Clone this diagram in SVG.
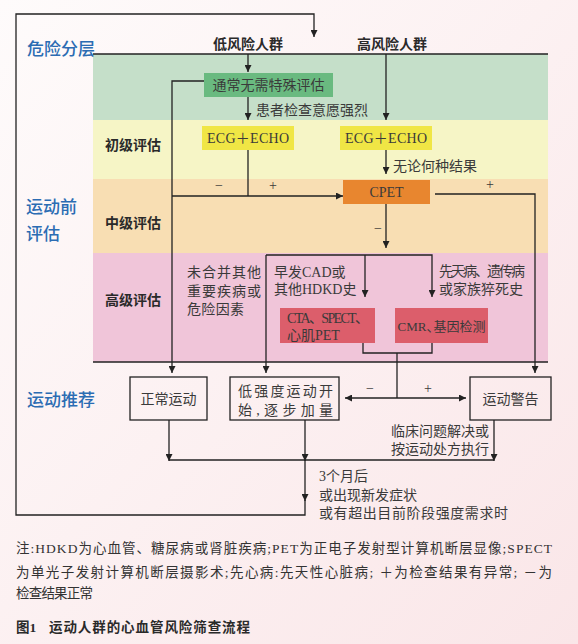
<svg xmlns="http://www.w3.org/2000/svg" width="578" height="644" viewBox="0 0 578 644">
<defs>
<linearGradient id="bg" x1="0" y1="0" x2="1" y2="1">
<stop offset="0" stop-color="#fefbfb"/>
<stop offset="1" stop-color="#fae6e8"/>
</linearGradient>
<marker id="ar" viewBox="0 0 8 8" refX="8" refY="4" markerWidth="7" markerHeight="7" markerUnits="userSpaceOnUse" orient="auto">
<path d="M0,0 L8,4 L0,8 z" fill="#222"/>
</marker>
<style>
.ln{stroke:#222;stroke-width:1.3;fill:none}
.ar{marker-end:url(#ar)}
.t{font-family:"Liberation Serif","Noto Sans CJK SC",serif;font-size:14px;fill:#3a3a3a;dominant-baseline:central}
.c{text-anchor:middle}
.h{font-family:"Noto Sans CJK SC",sans-serif;font-size:17px;fill:#2b6cb3;font-weight:500;dominant-baseline:central}
.b{font-family:"Liberation Serif","Noto Sans CJK SC",sans-serif;font-size:14px;fill:#2a2a2a;font-weight:bold;dominant-baseline:central}
.f{font-family:"Liberation Serif","Noto Sans CJK SC",serif;font-size:13.5px;fill:#333;dominant-baseline:central}
.box{fill:none;stroke:#222;stroke-width:1.3}
</style>
</defs>
<rect x="0" y="0" width="578" height="644" fill="url(#bg)"/>

<g id="bands">
<rect x="93" y="54" width="455" height="66" fill="#c5dfc9"/>
<rect x="93" y="120" width="455" height="59" fill="#f6f5c6"/>
<rect x="93" y="179" width="455" height="74" fill="#f8deb3"/>
<rect x="93" y="253" width="455" height="109" fill="#f0c5d9"/>
<line class="ln" x1="93" y1="54" x2="548" y2="54"/>
<line class="ln" x1="93" y1="362" x2="548" y2="362"/>
</g>

<g id="headings">
<text class="h" x="27" y="47">危险分层</text>
<text class="h" x="26" y="205">运动前</text>
<text class="h" x="26" y="232">评估</text>
<text class="h" x="27" y="398">运动推荐</text>
<text class="b" x="105" y="145">初级评估</text>
<text class="b" x="105" y="223">中级评估</text>
<text class="b" x="105" y="300">高级评估</text>
<text class="b c" x="248" y="44">低风险人群</text>
<text class="b c" x="392" y="44">高风险人群</text>
</g>

<g id="connectors">
<path class="ln ar" d="M248,54 V72"/>
<path class="ln ar" d="M248,97 V120"/>
<path class="ln ar" d="M386,54 V120"/>
<path class="ln ar" d="M386,150 V174"/>
<path class="ln ar" d="M204,81 H172 V373"/>
<path class="ln" d="M248,150 V196"/>
<path class="ln ar" d="M172,196 H343"/>
<path class="ln ar" d="M435,194 H535 V373"/>
<path class="ln ar" d="M386,204 V248"/>
<path class="ln ar" d="M266,255 V373"/>
<path class="ln ar" d="M266,255 H432 V297"/>
<path class="ln ar" d="M365,255 V297"/>
<path class="ln" d="M363,343 V353 H432 V343"/>
<path class="ln" d="M397,353 V398"/>
<path class="ln ar" d="M397,398 H345"/>
<path class="ln ar" d="M397,398 H466"/>
<path class="ln ar" d="M169,420 V461"/>
<path class="ln" d="M169,460 H494"/>
<path class="ln ar" d="M494,420 V461"/>
<path class="ln ar" d="M305,420 V461"/>
<path class="ln ar" d="M305,460 V501"/>
<path class="ln ar" d="M305,500 V515 H16 V14 H314 V37"/>
</g>

<g id="labels">
<text class="t" x="256" y="110">患者检查意愿强烈</text>
<text class="t" x="393" y="166">无论何种结果</text>
<text class="t c" x="219" y="185">−</text>
<text class="t c" x="273" y="185">+</text>
<text class="t c" x="490" y="184">+</text>
<text class="t c" x="378" y="228">−</text>
<text class="t c" x="370" y="388">−</text>
<text class="t c" x="428" y="388">+</text>
<text class="t" x="187" y="272" textLength="74">未合并其他</text>
<text class="t" x="187" y="291" textLength="74">重要疾病或</text>
<text class="t" x="187" y="309" textLength="57">危险因素</text>
<text class="t" x="274" y="272">早发CAD或</text>
<text class="t" x="274" y="289">其他HDKD史</text>
<text class="t" x="439" y="271" textLength="86">先天病、遗传病</text>
<text class="t" x="439" y="289">或家族猝死史</text>
<text class="t" x="391" y="431">临床问题解决或</text>
<text class="t" x="391" y="449">按运动处方执行</text>
<text class="t" x="319" y="476">3个月后</text>
<text class="t" x="319" y="495">或出现新发症状</text>
<text class="t" x="319" y="513" textLength="189">或有超出目前阶段强度需求时</text>
</g>

<g id="n-green">
<rect x="204" y="73" width="129" height="24" fill="#6aba80"/>
<text class="t c" x="268.5" y="85">通常无需特殊评估</text>
</g>
<g id="n-ecg1">
<rect x="202" y="126" width="92" height="24" fill="#f0e645"/>
<text class="t c" x="248" y="138" textLength="82">ECG＋ECHO</text>
</g>
<g id="n-ecg2">
<rect x="340" y="126" width="92" height="24" fill="#f0e645"/>
<text class="t c" x="386" y="138" textLength="82">ECG＋ECHO</text>
</g>
<g id="n-cpet">
<rect x="343" y="180" width="87" height="24" fill="#e8862f"/>
<text class="t c" x="386.5" y="192">CPET</text>
</g>
<g id="n-cta">
<rect x="280" y="308" width="95" height="35" fill="#dc5e6b"/>
<text class="t" x="287" y="318" textLength="82">CTA、SPECT、</text>
<text class="t" x="287" y="335">心肌PET</text>
</g>
<g id="n-cmr">
<rect x="395" y="308" width="93" height="35" fill="#dc5e6b"/>
<text class="t c" x="441.5" y="326" style="font-size:13px">CMR<tspan letter-spacing="-6">、</tspan>基因检测</text>
</g>
<g id="n-normal">
<rect class="box" x="130" y="377" width="77" height="43"/>
<text class="t c" x="168.5" y="399">正常运动</text>
</g>
<g id="n-low">
<rect class="box" x="230" y="377" width="109" height="43"/>
<text class="t" x="238" y="391" textLength="95">低强度运动开</text>
<text class="t" x="238" y="410" textLength="95">始,逐步加量</text>
</g>
<g id="n-warn">
<rect class="box" x="470" y="377" width="81" height="43"/>
<text class="t c" x="510.5" y="399">运动警告</text>
</g>

<g id="footnote">
<text class="f" x="16" y="548" textLength="536">注:HDKD为心血管、糖尿病或肾脏疾病;PET为正电子发射型计算机断层显像;SPECT</text>
<text class="f" x="16" y="572" textLength="536">为单光子发射计算机断层摄影术;先心病:先天性心脏病; ＋为检查结果有异常; －为</text>
<text class="f" x="16" y="593" textLength="77">检查结果正常</text>
<text class="b" x="16" y="627" style="font-size:13.5px">图1</text>
<text class="b" x="49" y="627" style="font-size:13.5px" textLength="201">运动人群的心血管风险筛查流程</text>
</g>
</svg>
